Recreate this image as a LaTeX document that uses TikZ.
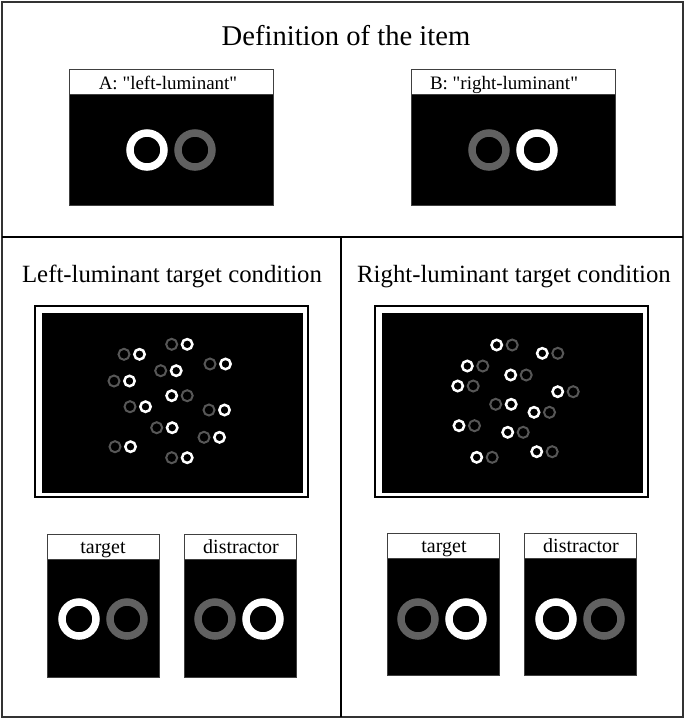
\documentclass[tikz,border=0pt]{standalone}
\usepackage{fontspec}
\setmainfont{Liberation Serif}
\newfontfamily\plainserif{Liberation Serif}
\usepackage{tikz}
\definecolor{ringgray}{gray}{0.38}
\definecolor{dimgray}{gray}{0.34}
\def\bigring[#1](#2){\draw[line width=3.75pt, color=#1] (#2) circle (17);}
\tikzset{
	whitering/.style={draw=white, line width=1.25pt},
	grayring/.style={draw=dimgray, line width=1pt},
	framebox/.style={draw=black!75, line width=0.5pt},
	labeltext/.style={anchor=base, inner sep=0pt}
}

\begin{document}
\begin{tikzpicture}[x=0.5pt, y=-0.5pt]
		%%%%% START %%%%%
		\useasboundingbox (0, 0) rectangle (685, 719);
		
		\draw[line width=1pt, color=black!80] (2, 2) rectangle (683, 717);
		\draw[line width=0.8pt] (2, 237) -- (683, 237);
		\draw[line width=0.8pt] (341, 237) -- (341, 717);
		
		\node[labeltext, font=\fontsize{14.3}{16}\selectfont] (title) at (346, 45) {Definition of the item};
		
		% item A
		\draw[framebox, fill=white] (69, 69) rectangle (273, 94);
		\draw[framebox, fill=black] (69, 94) rectangle (273, 205);
		\node[labeltext, font=\plainserif\fontsize{9.5}{11}\selectfont] (itemA) at (168, 89.3) {A: "left-luminant"};
		\bigring[white](147, 150);
		\bigring[ringgray](195, 150);
		
		% item B
		\draw[framebox, fill=white] (411, 69) rectangle (615, 94);
		\draw[framebox, fill=black] (411, 94) rectangle (615, 205);
		\node[labeltext, font=\plainserif\fontsize{9.5}{11}\selectfont] (itemB) at (504, 89.3) {B: "right-luminant"};
		\bigring[ringgray](489, 150);
		\bigring[white](537, 150);
		
		\node[labeltext, font=\fontsize{12.4}{14}\selectfont] (condL) at (172, 282) {Left-luminant target condition};
		\node[labeltext, font=\fontsize{12.4}{14}\selectfont] (condR) at (514, 282) {Right-luminant target condition};
		
		% search displays
		\draw[line width=0.6pt] (35, 306) rectangle (308, 497);
		\draw[fill=black] (42, 313) rectangle (302, 492);
		\draw[line width=0.6pt] (375, 306) rectangle (648, 497);
		\draw[fill=black] (382, 313) rectangle (642, 492);
		
		\foreach \x/\y in {171.7/344.3, 124/354.3, 210/364, 160.7/370.7, 114/381, 130/406.7,
			209/410, 156.7/427.7, 204/437.3, 115/446.7, 171.7/457.7, 495.7/404.3} {
			\draw[grayring] (\x, \y) circle (5.5);
			\draw[whitering] (\x+15.5, \y) circle (5.2);
		}
		\foreach \x/\y in {171.7/395.7, 496.7/345, 542.3/353.3, 467.3/366, 510.7/375, 457.7/386,
			557.7/391.7, 534/412.3, 459/425.7, 507.7/432.3, 536.7/451.7, 476.7/457.3} {
			\draw[whitering] (\x, \y) circle (5.2);
			\draw[grayring] (\x+15.5, \y) circle (5.5);
		}
		
		% target and distractor, left
		\draw[framebox, fill=white] (47, 534) rectangle (159, 559);
		\draw[framebox, fill=black] (47, 559) rectangle (159, 677);
		\node[labeltext, font=\fontsize{10}{12}\selectfont] (targetL) at (103, 553) {target};
		\bigring[white](79, 619);
		\bigring[ringgray](127, 619);
		
		\draw[framebox, fill=white] (184, 534) rectangle (296, 559);
		\draw[framebox, fill=black] (184, 559) rectangle (296, 677);
		\node[labeltext, font=\fontsize{10}{12}\selectfont] (distrL) at (241, 553) {distractor};
		\bigring[ringgray](215, 619);
		\bigring[white](263, 619);
		
		% target and distractor, right
		\draw[framebox, fill=white] (387, 533) rectangle (499, 558);
		\draw[framebox, fill=black] (387, 558) rectangle (499, 675);
		\node[labeltext, font=\fontsize{10}{12}\selectfont] (targetR) at (444, 552.5) {target};
		\bigring[ringgray](418, 619);
		\bigring[white](466, 619);
		
		\draw[framebox, fill=white] (524, 533) rectangle (636, 558);
		\draw[framebox, fill=black] (524, 558) rectangle (636, 675);
		\node[labeltext, font=\fontsize{10}{12}\selectfont] (distrR) at (581, 552.5) {distractor};
		\bigring[white](556, 619);
		\bigring[ringgray](604, 619);
		
		%%%%% END %%%%%
	\end{tikzpicture}
\end{document}
